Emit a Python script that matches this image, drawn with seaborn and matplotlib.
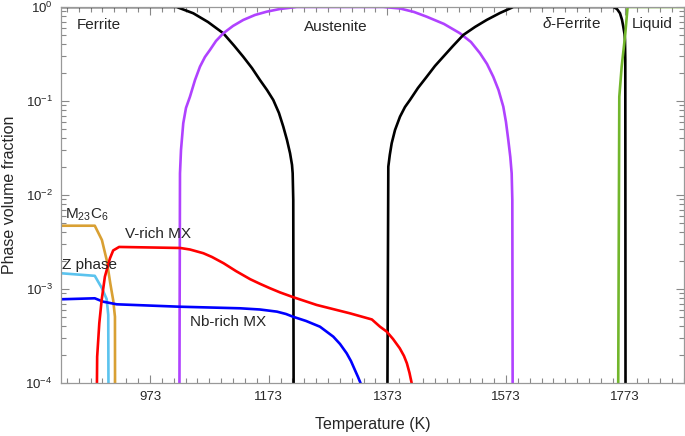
import numpy as np
import pandas as pd
import seaborn as sns
import matplotlib
matplotlib.use("Agg")
import matplotlib.pyplot as plt
from matplotlib.ticker import LogLocator, MultipleLocator, FixedLocator

# phase fractions (T in K)
ferrite_T = [823, 1018, 1046, 1070.8, 1096.6, 1114.6, 1130.3, 1144.9, 1158.4, 1170.2,
             1180.8, 1190.4, 1197.7, 1203.9, 1209.1, 1212.4, 1213.5, 1214.5, 1215.7]
ferrite_v = [1.0, 1.0, 0.857, 0.692, 0.525, 0.389, 0.295, 0.224, 0.167, 0.131,
             0.1025, 0.0745, 0.0533, 0.0385, 0.0278, 0.0209, 0.0170, 0.00885, 1e-6]

austenite_T = [1021.9, 1023.6, 1025.3, 1029.1, 1033.7, 1040.4, 1048.9, 1057.3, 1065.7,
               1074.1, 1084.3, 1096.6, 1112.9, 1130.3, 1150, 1169.7, 1192.1, 1220.3,
               1366.2, 1394.4, 1418, 1439.4, 1468.5, 1495.5, 1514, 1529.2, 1541,
               1551.6, 1560.4, 1568.5, 1573, 1576.9, 1580.3, 1582.6, 1583.7, 1584.8]
austenite_v = [1e-6, 0.0170, 0.0301, 0.0579, 0.0843, 0.111, 0.167, 0.232, 0.294,
               0.349, 0.435, 0.525, 0.628, 0.728, 0.822, 0.891, 0.952, 1.0,
               1.0, 0.964, 0.885, 0.788, 0.660, 0.525, 0.424, 0.322, 0.248,
               0.181, 0.131, 0.0870, 0.0598, 0.0385, 0.0254, 0.0170, 0.00885, 1e-6]

dferrite_T = [1372, 1374.7, 1377.2, 1380.4, 1386, 1394.4, 1402.8, 1411.2, 1424.7,
              1439.4, 1453.4, 1467.4, 1483.7, 1501.1, 1520.8, 1540.5, 1562.9, 1585.4,
              1753.9, 1760.1, 1765.2, 1768.6, 1770.7, 1772.8, 1773.6, 1774.1, 1774.7]
dferrite_v = [1e-6, 0.0200, 0.0267, 0.0355, 0.0491, 0.0681, 0.0863, 0.1025, 0.1376,
              0.181, 0.236, 0.296, 0.385, 0.504, 0.613, 0.728, 0.863, 1.0,
              1.0, 0.952, 0.857, 0.728, 0.618, 0.516, 0.446, 0.273, 1e-6]

liquid_T = [1761, 1764, 1768, 1773.6, 1778, 1873]
liquid_v = [1e-6, 0.111, 0.232, 0.483, 1.0, 1.0]

m23c6_T = [823, 880, 892, 900, 906, 911, 914, 914.5]
m23c6_v = [4.71e-3, 4.71e-3, 3.32e-3, 2.04e-3, 1.16e-3, 7.6e-4, 5.07e-4, 1e-6]

zphase_T = [823, 880, 892, 900, 902.7, 904]
zphase_v = [1.47e-3, 1.38e-3, 1.02e-3, 7.8e-4, 5.3e-4, 1e-6]

nbmx_T = [823, 880, 894, 917, 1022, 1125, 1158.4, 1187, 1202.2, 1214, 1236, 1259.5,
          1282, 1293.3, 1304.5, 1311.8, 1318.5, 1323.6, 1327.8, 1330]
nbmx_v = [7.77e-4, 7.96e-4, 7.33e-4, 6.87e-4, 6.48e-4, 6.23e-4, 6.05e-4, 5.74e-4,
          5.42e-4, 5.07e-4, 4.57e-4, 3.97e-4, 3.11e-4, 2.60e-4, 2.07e-4, 1.71e-4,
          1.37e-4, 1.16e-4, 1e-4, 1e-6]

vmx_T = [881, 884, 887.6, 891.6, 897, 905.6, 911, 921, 1024, 1040.4, 1063, 1077.5,
         1097, 1118, 1142, 1158.4, 1175, 1192.1, 1214, 1254, 1310, 1347, 1360.7,
         1372, 1382.6, 1394, 1401.1, 1406, 1410.4, 1414, 1416]
vmx_v = [1e-6, 1.9e-4, 4.32e-4, 7.64e-4, 1.35e-3, 2.12e-3, 2.57e-3, 2.80e-3, 2.73e-3,
         2.63e-3, 2.40e-3, 2.19e-3, 1.88e-3, 1.55e-3, 1.27e-3, 1.135e-3, 1.02e-3,
         9.2e-4, 8.2e-4, 6.76e-4, 5.51e-4, 4.74e-4, 3.97e-4, 3.52e-4, 2.94e-4,
         2.34e-4, 1.94e-4, 1.62e-4, 1.28e-4, 1e-4, 1e-6]

x_ticks = [973, 1173, 1373, 1573, 1773]

series = {
    "Ferrite": (ferrite_T, ferrite_v, "black"),
    "Austenite": (austenite_T, austenite_v, "#B042FF"),
    "delta-Ferrite": (dferrite_T, dferrite_v, "black"),
    "Liquid": (liquid_T, liquid_v, "#72B62C"),
    "M23C6": (m23c6_T, m23c6_v, "#D9A033"),
    "Z phase": (zphase_T, zphase_v, "#5BC3EE"),
    "Nb-rich MX": (nbmx_T, nbmx_v, "#0000FF"),
    "V-rich MX": (vmx_T, vmx_v, "#FF0000"),
}

sns.set_style("white")
plt.rcParams["font.family"] = ["Liberation Sans", "DejaVu Sans"]
plt.rcParams["mathtext.fontset"] = "custom"
plt.rcParams["mathtext.rm"] = "Liberation Sans"
plt.rcParams["mathtext.it"] = "Liberation Sans:italic"

fig = plt.figure(figsize=(6.85, 4.36), dpi=100)
ax = fig.add_axes([0.089, 0.1216, 0.9095, 0.8624])

for name, (t, v, c) in series.items():
    df = pd.DataFrame({"T": t, "v": v})
    sns.lineplot(data=df, x="T", y="v", color=c, lw=1.9, sort=False,
                 estimator=None, ax=ax, legend=False)

ax.set_yscale("log")
ax.set_xlim(823, 1873)
ax.set_ylim(1e-4, 1)

ax.xaxis.set_major_locator(FixedLocator(x_ticks))
ax.xaxis.set_minor_locator(MultipleLocator(20, offset=13))
ax.yaxis.set_major_locator(LogLocator(base=10, numticks=10))
ax.yaxis.set_minor_locator(LogLocator(base=10, subs=np.arange(2, 10), numticks=10))

ax.tick_params(which="both", direction="in", bottom=True, left=True, top=True,
               right=True, color="#888888", labelsize=9.5, pad=6)
ax.tick_params(which="major", length=6, width=0.8)
ax.tick_params(which="minor", length=3.5, width=0.8)
for sp in ax.spines.values():
    sp.set_color("#999999")
    sp.set_linewidth(0.9)

ax.set_xlabel("Temperature (K)", fontsize=11.5, labelpad=10)
ax.set_ylabel("Phase volume fraction", fontsize=11.5, labelpad=6)

fs = 11
ax.text(850, 0.645, "Ferrite", fontsize=fs, va="center", ha="left")
ax.text(1287, 0.608, "Austenite", fontsize=fs, va="center", ha="center")
ax.text(1684, 0.66, r"$\delta$-Ferrite", fontsize=fs, va="center", ha="center")
ax.text(1820, 0.66, "Liquid", fontsize=fs, va="center", ha="center")
ax.text(829, 6.1e-3, r"M$_{23}$C$_6$", fontsize=fs, va="center", ha="left")
ax.text(931, 3.85e-3, "V-rich MX", fontsize=fs, va="center", ha="left")
ax.text(824, 1.8e-3, "Z phase", fontsize=fs, va="center", ha="left")
ax.text(1040, 4.49e-4, "Nb-rich MX", fontsize=fs, va="center", ha="left")

fig.savefig("out.png", dpi=100)
